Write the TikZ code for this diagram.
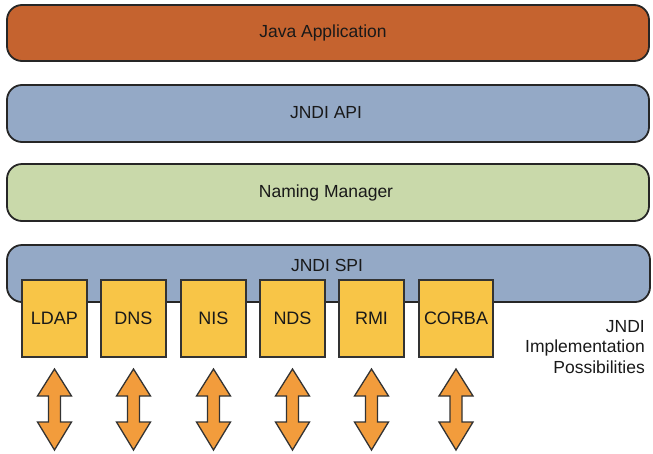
\documentclass[tikz,border=0pt]{standalone}
\usepackage{fontspec}
\setmainfont{Liberation Sans}
\begin{document}
\begin{tikzpicture}[x=1pt,y=-1pt,
  bar/.style={draw=black!85, line width=1.8pt, rounded corners=15pt},
  impl/.style={draw=black!80, line width=1.5pt, fill=implyellow},
  lbl/.style={font=\fontsize{17.5}{20.5}\selectfont, text=black!90},
  boxlbl/.style={font=\fontsize{18}{20}\selectfont, text=black!90},
  dblarrow/.style={draw=black!80, line width=1.3pt, fill=arroworange, line join=miter}
]
\definecolor{javaorange}{HTML}{C5632F}
\definecolor{apiblue}{HTML}{94A9C6}
\definecolor{nmgreen}{HTML}{C9D9AA}
\definecolor{implyellow}{HTML}{F8C547}
\definecolor{arroworange}{HTML}{F29C3C}
\useasboundingbox (0,0) rectangle (653,453);

\draw[bar, fill=javaorange] (7,5) rectangle (649,61);
\node[lbl] (java) at (323,33) {Java Application};
\draw[bar, fill=apiblue] (7,85) rectangle (649,142);
\node[lbl] (api) at (326,113) {JNDI API};
\draw[bar, fill=nmgreen] (7,164) rectangle (649,221);
\node[lbl] (nm) at (326,193) {Naming Manager};
\draw[bar, fill=apiblue] (7,245) rectangle (650,302);
\node[lbl] (spi) at (327,265) {JNDI SPI};

\foreach \name/\x/\w [count=\i] in {LDAP/22/65, DNS/101/65, NIS/181/65, NDS/260/65, RMI/339/65, CORBA/419/74} {
  \draw[impl] (\x,280) rectangle ++(\w,77);
  \pgfmathsetmacro\cx{\x+\w/2}
  \node[boxlbl] (box\i) at (\cx,318.5) {\name};
  \draw[dblarrow] (\cx,369) -- (\cx+17,396) -- (\cx+6,396) -- (\cx+6,422) -- (\cx+17,422)
    -- (\cx,450) -- (\cx-17,422) -- (\cx-6,422) -- (\cx-6,396) -- (\cx-17,396) -- cycle;
}

\node[lbl, align=right, anchor=north east, inner sep=0pt] (impltext) at (645,320) {JNDI\\Implementation\\Possibilities};
\end{tikzpicture}
\end{document}
